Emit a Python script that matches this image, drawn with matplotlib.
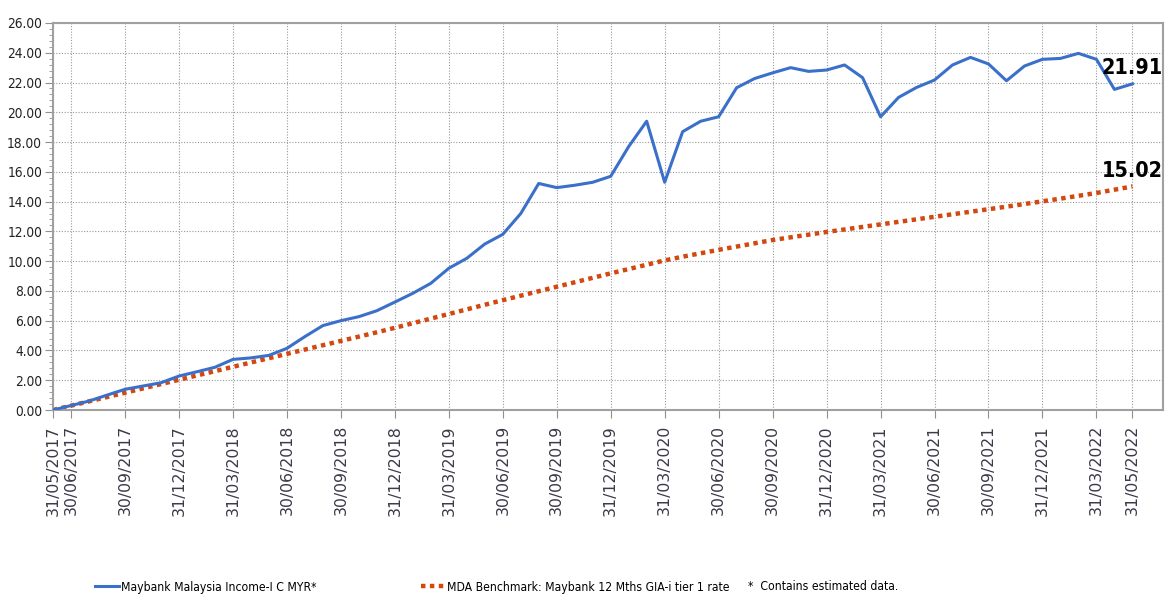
import matplotlib
matplotlib.use("Agg")
import matplotlib.pyplot as plt
from matplotlib import font_manager
from matplotlib.font_manager import FontProperties
from matplotlib.lines import Line2D
from matplotlib.ticker import MultipleLocator, FormatStrFormatter

# monthly month-end points, 31/05/2017 .. 31/05/2022
fund = [0.00, 0.30, 0.60, 1.00, 1.39, 1.61, 1.83, 2.28, 2.57, 2.87,
        3.40, 3.50, 3.67, 4.14, 4.93, 5.67, 6.00, 6.27, 6.67, 7.25,
        7.84, 8.51, 9.52, 10.19, 11.15, 11.80, 13.20, 15.22, 14.94, 15.10,
        15.30, 15.70, 17.70, 19.40, 15.30, 18.70, 19.40, 19.70, 21.65, 22.27,
        22.65, 23.00, 22.75, 22.84, 23.18, 22.33, 19.70, 21.00, 21.67, 22.17,
        23.18, 23.69, 23.25, 22.12, 23.11, 23.56, 23.62, 23.96, 23.56, 21.54,
        21.91]
bench = [0.00, 0.29, 0.58, 0.87, 1.16, 1.45, 1.74, 2.03, 2.32, 2.61,
         2.90, 3.19, 3.48, 3.77, 4.06, 4.35, 4.64, 4.93, 5.22, 5.52,
         5.83, 6.14, 6.45, 6.76, 7.07, 7.38, 7.68, 7.98, 8.28, 8.58,
         8.88, 9.18, 9.47, 9.76, 10.05, 10.30, 10.53, 10.76, 10.98, 11.20,
         11.42, 11.60, 11.78, 11.96, 12.13, 12.30, 12.47, 12.64, 12.81, 12.98,
         13.15, 13.32, 13.49, 13.66, 13.84, 14.02, 14.20, 14.39, 14.58, 14.80,
         15.02]
months = list(range(len(fund)))

tick_pos = [0, 1, 4, 7, 10, 13, 16, 19, 22, 25, 28, 31, 34, 37, 40, 43,
            46, 49, 52, 55, 58, 60]
tick_labels = ["31/05/2017", "30/06/2017", "30/09/2017", "31/12/2017",
               "31/03/2018", "30/06/2018", "30/09/2018", "31/12/2018",
               "31/03/2019", "30/06/2019", "30/09/2019", "31/12/2019",
               "31/03/2020", "30/06/2020", "30/09/2020", "31/12/2020",
               "31/03/2021", "30/06/2021", "30/09/2021", "31/12/2021",
               "31/03/2022", "31/05/2022"]

fund_name = "Maybank Malaysia Income-I C MYR*"
bench_name = "MDA Benchmark: Maybank 12 Mths GIA-i tier 1 rate"
note = "*  Contains estimated data."

blue = "#3a70c9"
orange = "#d2480f"


# look for a narrow face, otherwise shrink DejaVu Sans
def narrow_font(bold):
    for f in font_manager.fontManager.ttflist:
        is_bold = f.weight in ("bold", 700)
        narrow = "Narrow" in f.name or f.stretch in ("condensed", "semi-condensed")
        if narrow and is_bold == bold and f.style == "normal":
            return FontProperties(fname=f.fname), 1.0
    return FontProperties(family="DejaVu Sans",
                          weight="bold" if bold else "normal"), 0.85


reg_fp, k = narrow_font(False)
bold_fp, kb = narrow_font(True)

fig = plt.figure(figsize=(11.65, 5.96), dpi=100)
ax = fig.add_axes([53 / 1165, 186 / 596, 1110 / 1165, 387 / 596])

ax.plot(months, fund, color=blue, lw=2.2, zorder=3)
ax.plot(months, bench, color=orange, lw=3.2, linestyle=(0, (1, 1)), zorder=2)

ax.set_xlim(0, 61.7)
ax.set_ylim(0, 26)
ax.yaxis.set_major_locator(MultipleLocator(2))
ax.yaxis.set_minor_locator(MultipleLocator(0.4))
ax.yaxis.set_major_formatter(FormatStrFormatter("%.2f"))
ax.set_xticks(tick_pos)
ax.set_xticklabels(tick_labels, rotation=90, fontsize=11.3, color="#3a3a4a",
                   family="DejaVu Sans")
for lab in ax.get_yticklabels():
    lab.set_fontproperties(reg_fp)
    lab.set_fontsize(9.8 * k)
    lab.set_color("#222222")

ax.tick_params(axis="y", which="major", length=5.8, color="#909090", pad=2)
ax.tick_params(axis="y", which="minor", length=3, color="#909090")
ax.tick_params(axis="x", length=5.8, color="#909090", pad=5)

ax.grid(True, which="major", color="#9a9a9a", lw=0.8, linestyle=(0, (1, 1.5)))
for s in ax.spines.values():
    s.set_color("#a0a0a0")
    s.set_linewidth(1.5)

for val in (fund[-1], bench[-1]):
    t = ax.annotate(f"{val:.2f}", (months[-1], val), xytext=(0, 4),
                    textcoords="offset points", ha="center", va="bottom")
    t.set_fontproperties(bold_fp)
    t.set_fontsize(15.5 * kb)

leg_fp = reg_fp.copy()
leg_fp.set_size(8.7 * k)
handles = [Line2D([], [], color=blue, lw=2.2),
           Line2D([], [], color=orange, lw=3.2, linestyle=(0, (1, 1)))]
fig.legend(handles, [fund_name, bench_name], loc="center left",
           bbox_to_anchor=(90 / 1165, 9 / 596), ncol=2, frameon=False,
           prop=leg_fp, handlelength=2.0, handletextpad=0.2,
           columnspacing=8.6, borderaxespad=0)
fig.text(748 / 1165, 9 / 596, note, ha="left", va="center",
         fontproperties=leg_fp)

fig.savefig("out.png", dpi=100)
